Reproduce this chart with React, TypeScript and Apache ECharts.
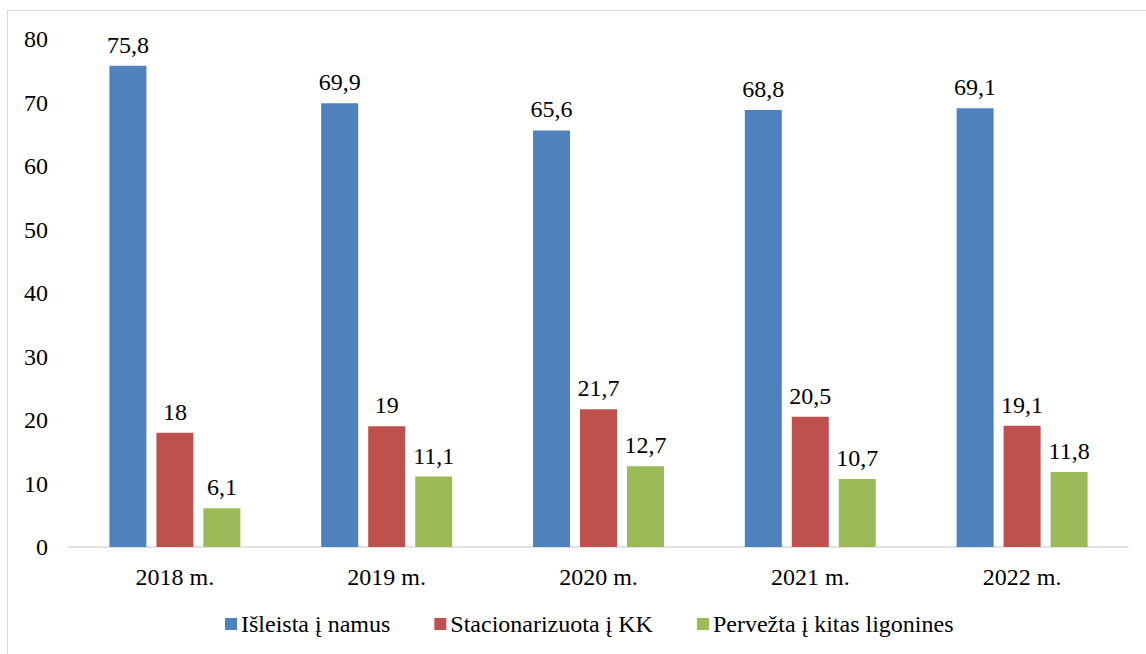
import React, { useEffect, useRef } from "react";
import * as echarts from "echarts";

const categories = ["2018 m.", "2019 m.", "2020 m.", "2021 m.", "2022 m."];
const seriesNames = ["Išleista į namus", "Stacionarizuota į KK", "Pervežta į kitas ligonines"];
const isleista = [75.8, 69.9, 65.6, 68.8, 69.1];
const stacionarizuota = [18, 19, 21.7, 20.5, 19.1];
const pervezta = [6.1, 11.1, 12.7, 10.7, 11.8];
const colors = ["#4F81BD", "#C0504D", "#9BBB59"];

const FONT = "Liberation Serif";
const FS = 24;

export default function App() {
  const ref = useRef<HTMLDivElement>(null);
  useEffect(() => {
    document.body.style.margin = "0";
    const chart = echarts.init(ref.current!, null, { renderer: "svg" });
    const mk = (name: string, data: number[], color: string) => ({
      name,
      type: "bar",
      data,
      barWidth: 37,
      barGap: "27%",
      itemStyle: { color },
      label: {
        show: true,
        position: "top",
        distance: 9,
        color: "#000",
        fontFamily: FONT,
        fontSize: FS,
        formatter: (p: any) => String(p.value).replace(".", ","),
      },
    });
    chart.setOption({
      animation: false,
      textStyle: { fontFamily: FONT },
      graphic: [
        {
          type: "rect",
          shape: { x: 7.5, y: 10.5, width: 1300, height: 800 },
          style: { fill: "none", stroke: "#d9d9d9", lineWidth: 1 },
          silent: true,
        },
      ],
      grid: { left: 69, right: 18, top: 39, bottom: 107, containLabel: false },
      legend: {
        bottom: 13,
        left: 220,
        itemWidth: 12,
        itemHeight: 12,
        itemGap: 44,
        icon: "rect",
        textStyle: { fontFamily: FONT, fontSize: FS, color: "#000", padding: [0, 0, 0, -1] },
        data: seriesNames,
      },
      xAxis: {
        type: "category",
        data: categories,
        axisLine: { lineStyle: { color: "#d9d9d9", width: 1.5 } },
        axisTick: { show: false },
        axisLabel: { color: "#000", fontFamily: FONT, fontSize: FS, margin: 18 },
      },
      yAxis: {
        type: "value",
        min: 0,
        max: 80,
        interval: 10,
        splitLine: { show: false },
        axisLine: { show: false },
        axisTick: { show: false },
        axisLabel: { color: "#000", fontFamily: FONT, fontSize: FS, margin: 21 },
      },
      series: [
        mk(seriesNames[0], isleista, colors[0]),
        mk(seriesNames[1], stacionarizuota, colors[1]),
        mk(seriesNames[2], pervezta, colors[2]),
      ],
    });
    return () => chart.dispose();
  }, []);
  return <div ref={ref} style={{ width: 1146, height: 654 }} />;
}
